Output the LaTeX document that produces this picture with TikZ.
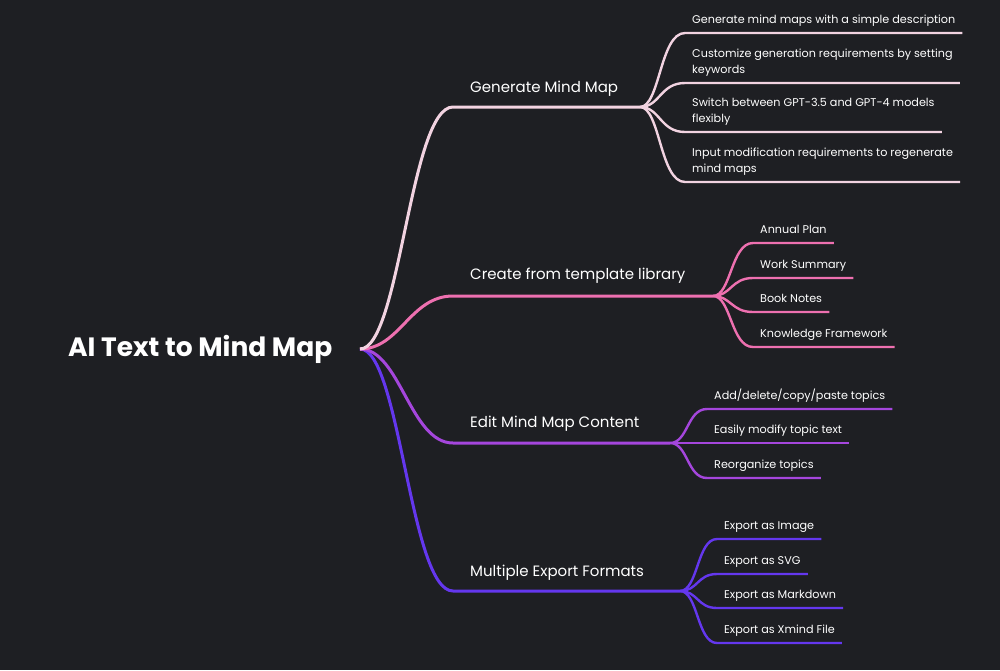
\documentclass[tikz,border=0pt]{standalone}
\usepackage{fontspec}
\setmainfont{Poppins}
\definecolor{bg}{HTML}{1E1F23}
\definecolor{cgen}{HTML}{F2D3E1}
\definecolor{ctpl}{HTML}{EE70B0}
\definecolor{cedit}{HTML}{A546DD}
\definecolor{cexp}{HTML}{6437EE}
\begin{document}
\begin{tikzpicture}[x=1pt,y=-1pt,
  branch/.style={line width=3pt},
  sub/.style={line width=2.4pt},
  topic/.style={anchor=base west, inner sep=0pt, text=white, font=\fontsize{15}{18}\selectfont},
  leaf/.style={anchor=south west, inner xsep=7pt, inner ysep=6pt, text depth=3pt, align=left, text=white, font=\fontsize{11.2}{16}\selectfont}]
\fill[bg] (0,0) rectangle (1000,670);
\useasboundingbox (0,0) rectangle (1000,670);

% root topic
\node[anchor=west, inner sep=0pt, text=white, font=\fontsize{26.5}{30}\bfseries] (root) at (68,349) {AI Text to Mind Map};
\coordinate (hub) at (360,349);

% main topics
\node[topic] (gen) at (470,92) {Generate Mind Map};
\node[topic] (tpl) at (470,279) {Create from template library};
\node[topic] (edit) at (470,427) {Edit Mind Map Content};
\node[topic] (exp) at (470,576) {Multiple Export Formats};

\coordinate (gen s) at (453,107);  \coordinate (gen f) at (640,107);
\coordinate (tpl s) at (453,296);  \coordinate (tpl f) at (713,296);
\coordinate (edit s) at (453,443); \coordinate (edit f) at (670,443);
\coordinate (exp s) at (453,591);  \coordinate (exp f) at (680,591);

% Generate Mind Map leaves
\node[leaf] (gen1) at (685,33) {Generate mind maps with a simple description};
\node[leaf] (gen2) at (685,83) {Customize generation requirements by setting\\keywords};
\node[leaf] (gen3) at (685,132) {Switch between GPT-3.5 and GPT-4 models\\flexibly};
\node[leaf] (gen4) at (685,182) {Input modification requirements to regenerate\\mind maps};

% template library leaves
\node[leaf] (tpl1) at (753,243) {Annual Plan};
\node[leaf] (tpl2) at (753,278) {Work Summary};
\node[leaf] (tpl3) at (753,312) {Book Notes};
\node[leaf] (tpl4) at (753,347) {Knowledge Framework};

% edit leaves
\node[leaf] (edit1) at (707,409) {Add/delete/copy/paste topics};
\node[leaf] (edit2) at (707,443) {Easily modify topic text};
\node[leaf] (edit3) at (707,478) {Reorganize topics};

% export leaves
\node[leaf] (exp1) at (717,539) {Export as Image};
\node[leaf] (exp2) at (717,574) {Export as SVG};
\node[leaf] (exp3) at (717,608) {Export as Markdown};
\node[leaf] (exp4) at (717,643) {Export as Xmind File};

% branches
\foreach \b/\c in {exp/cexp, edit/cedit, tpl/ctpl, gen/cgen}
  \draw[branch, \c] (hub) .. controls +(40,0) and +(-43,0) .. (\b\space s) -- (\b\space f);

\foreach \n in {1,...,4}
  \draw[sub, cgen] (gen f) .. controls +(20,0) and +(-25,0) .. (gen\n.south west) -- (gen\n.south east);
\foreach \n in {1,...,4}
  \draw[sub, ctpl] (tpl f) .. controls +(18,0) and +(-22,0) .. (tpl\n.south west) -- (tpl\n.south east);
\foreach \n in {1,...,3}
  \draw[sub, cedit] (edit f) .. controls +(18,0) and +(-20,0) .. (edit\n.south west) -- (edit\n.south east);
\foreach \n in {1,...,4}
  \draw[sub, cexp] (exp f) .. controls +(18,0) and +(-20,0) .. (exp\n.south west) -- (exp\n.south east);

\end{tikzpicture}
\end{document}
